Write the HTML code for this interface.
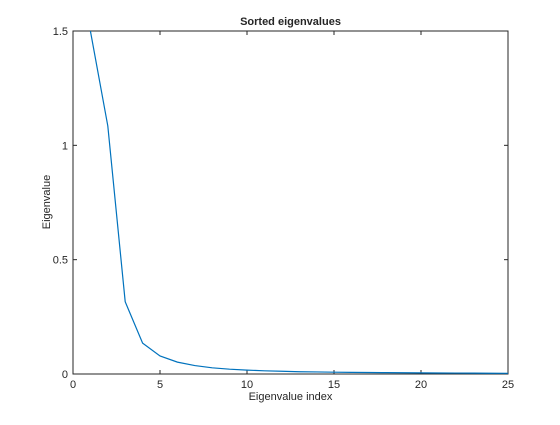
<!DOCTYPE html>
<html><head><meta charset="utf-8"><style>
body{margin:0;background:#fff;}
svg text{font-family:"Liberation Sans",sans-serif;font-size:11px;fill:#262626;}
</style></head><body>
<svg width="560" height="420" id="c">
<rect x="0" y="0" width="560" height="420" fill="#fff"/>
<text x="290.5" y="25" text-anchor="middle" font-weight="bold">Sorted eigenvalues</text>
<text x="290.5" y="400" text-anchor="middle">Eigenvalue index</text>
<text transform="translate(50,202) rotate(-90)" text-anchor="middle">Eigenvalue</text>
<g id="ax"></g>
</svg>
<script>
const xTicks=[0,5,10,15,20,25];
const yTicks=[0,0.5,1,1.5];
const yTickLabels=['0','0.5','1','1.5'];
const indices=[1,2,3,4,5,6,7,8,9,10,11,12,13,14,15,16,17,18,19,20,21,22,23,24,25];
const eigenvalues=[1.5,1.085,0.316,0.135,0.079,0.052,0.037,0.027,0.021,0.017,0.014,0.012,0.010,0.009,0.008,0.007,0.0065,0.006,0.0055,0.005,0.0045,0.004,0.0037,0.0034,0.003];
const L=73,R=508,T=31,B=374;
const sx=v=>L+(v-0)/25*(R-L);
const sy=v=>B-(v-0)/1.5*(B-T);
const ns='http://www.w3.org/2000/svg';
const g=document.getElementById('ax');
function mk(t,a){const e=document.createElementNS(ns,t);for(const k in a)e.setAttribute(k,a[k]);g.appendChild(e);return e;}
const box=mk('rect',{x:L,y:T,width:R-L,height:B-T,fill:'none',stroke:'#262626','stroke-width':1});


xTicks.forEach(v=>{const x=sx(v);
mk('line',{x1:x,x2:x,y1:B,y2:B-4,stroke:'#262626'});
mk('line',{x1:x,x2:x,y1:T,y2:T+4,stroke:'#262626'});
const t=mk('text',{x:x,y:B+14,'text-anchor':'middle'});t.textContent=v;

});
yTicks.forEach((v,i)=>{const y=sy(v);
mk('line',{x1:L,x2:L+4,y1:y,y2:y,stroke:'#262626'});
mk('line',{x1:R,x2:R-4,y1:y,y2:y,stroke:'#262626'});
const t=mk('text',{x:L-5,y:y+4,'text-anchor':'end'});t.textContent=yTickLabels[i];

});
const p=mk('polyline',{points:indices.map((x,i)=>sx(x)+','+sy(eigenvalues[i])).join(' '),fill:'none',stroke:'#0072bd','stroke-width':1.2});


</script>
</body></html>
